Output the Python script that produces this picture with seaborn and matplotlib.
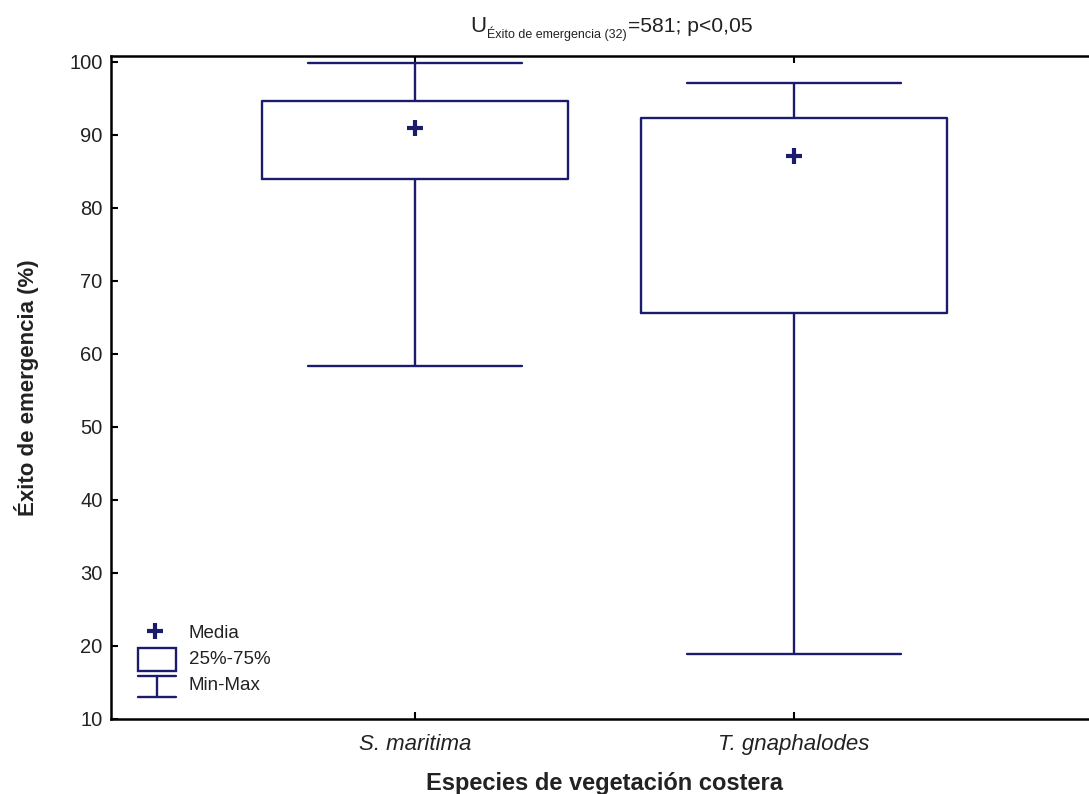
import matplotlib
matplotlib.use("Agg")
import matplotlib.pyplot as plt
import pandas as pd
import seaborn as sns
from matplotlib.patches import Rectangle

# Resumen por especie: mínimo, cuartiles, máximo y media (%)
especies = ["S. maritima", "T. gnaphalodes"]
minimo = [58.3, 18.9]
cuartil_25 = [84.0, 65.6]
cuartil_75 = [94.6, 92.3]
maximo = [99.8, 97.1]
media = [91.0, 87.1]
yticks = [10, 20, 30, 40, 50, 60, 70, 80, 90, 100]

sns.set_style("ticks")
plt.rcParams["font.family"] = ["Liberation Sans", "DejaVu Sans"]

NAVY = "#1c1c6e"
TXT = "#222222"
LW = 1.7

# Cinco valores por especie: con whis=(0, 100) la caja va de Q1 a Q3 y
# los bigotes del mínimo al máximo
filas = []
for i, esp in enumerate(especies):
    for v in (minimo[i], cuartil_25[i], media[i], cuartil_75[i], maximo[i]):
        filas.append({"especie": esp, "valor": v})
df = pd.DataFrame(filas)

fig = plt.figure(figsize=(10.89, 7.94), dpi=100)
ax = fig.add_axes([111 / 1089, 1 - 719 / 794, 987 / 1089, 663 / 794])

sns.boxplot(
    data=df, x="especie", y="valor", order=especies, whis=(0, 100),
    width=0.805, fill=False, color=NAVY, linewidth=LW, showfliers=False,
    medianprops={"visible": False}, ax=ax,
)

# Anchura de los topes de los bigotes
cap_half = 0.2835
for line in ax.lines:
    xd, yd = line.get_xdata(), line.get_ydata()
    if len(xd) == 2 and yd[0] == yd[1]:
        xc = (xd[0] + xd[1]) / 2
        for i in range(len(especies)):
            if abs(xc - i) < 0.01 and (abs(yd[0] - minimo[i]) < 1e-9 or abs(yd[0] - maximo[i]) < 1e-9):
                line.set_xdata([i - cap_half, i + cap_half])

sns.pointplot(
    x=especies, y=media, order=especies, linestyle="none", marker="+",
    markersize=11, markeredgewidth=3, color=NAVY, errorbar=None, ax=ax,
)

ax.set_xlim(-0.802, 1.802)
ax.set_ylim(10, 100.8)
ax.set_yticks(yticks)
ax.set_yticklabels([str(t) for t in yticks])
ax.set_xticks(range(len(especies)))
ax.set_xticklabels(especies, fontstyle="italic")

ax.tick_params(axis="both", direction="in", length=5, width=1.5, color="black",
               labelcolor=TXT)
ax.tick_params(axis="x", top=True, labeltop=False, pad=11, labelsize=16)
ax.tick_params(axis="y", pad=6, labelsize=14.5)
for sp in ax.spines.values():
    sp.set_visible(True)
    sp.set_color("black")
    sp.set_linewidth(1.8)

ax.set_xlabel("Especies de vegetación costera", fontsize=17, fontweight="bold",
              color=TXT, labelpad=12)
ax.set_ylabel("Éxito de emergencia (%)", fontsize=16, fontweight="bold",
              color=TXT, labelpad=22)

# Título: U con subíndice, seguido del resultado de la prueba
renderer = fig.canvas.get_renderer()
piezas = [("U", 16, 0), ("Éxito de emergencia (32)", 9, -6), ("=581; p<0,05", 15.2, 0)]
textos = []
for txt, size, dy in piezas:
    t = fig.text(0, 0, txt, fontsize=size, color=TXT, ha="left", va="baseline")
    textos.append((t, dy))
anchos = [t.get_window_extent(renderer).width for t, _ in textos]
x0 = 610 - sum(anchos) / 2
base = 794 - 32
for (t, dy), w in zip(textos, anchos):
    t.set_position((x0 / 1089, (base + dy) / 794))
    x0 += w + 1

# Leyenda
tr = ax.transAxes
ax.plot([0.0446], [0.1327], marker="+", markersize=11, markeredgewidth=3,
        color=NAVY, transform=tr, clip_on=False)
ax.add_patch(Rectangle((0.0274, 0.0724), 0.0385, 0.0347, fill=False,
                       edgecolor=NAVY, linewidth=LW, transform=tr))
ax.plot([0.0274, 0.0659], [0.0649, 0.0649], color=NAVY, lw=LW, transform=tr)
ax.plot([0.0466, 0.0466], [0.0649, 0.0332], color=NAVY, lw=LW, transform=tr)
ax.plot([0.0274, 0.0659], [0.0332, 0.0332], color=NAVY, lw=LW, transform=tr)
for yy, txt in [(0.1297, "Media"), (0.089, "25%-75%"), (0.0498, "Min-Max")]:
    ax.text(0.079, yy, txt, transform=tr, fontsize=13.5, color=TXT,
            va="center", ha="left")

fig.savefig("out.png", dpi=100)
